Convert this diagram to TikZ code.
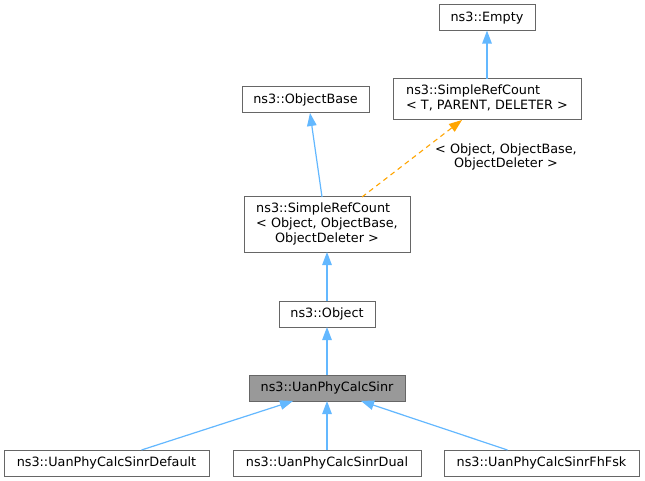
\documentclass[tikz,border=0pt]{standalone}
\usepackage{fontspec}
\setmainfont{DejaVu Sans}
\usetikzlibrary{arrows.meta}
\begin{document}
\begin{tikzpicture}[x=1pt,y=-1pt,
  box/.style={draw=black!60, line width=1pt, fill=white, inner sep=0pt, outer sep=0pt,
    font=\fontsize{12.8}{15}\selectfont, text=black},
  hl/.style={box, fill=black!40},
  edge/.style={color={rgb,255:red,99;green,184;blue,255}, line width=1.2pt,
    -{Triangle[length=13pt,width=9.5pt]}},
  tmpl/.style={color={rgb,255:red,255;green,165;blue,0}, line width=1.1pt, dash pattern=on 5pt off 4pt,
    -{Triangle[length=13pt,width=9.5pt]}},
  lbl/.style={font=\fontsize{12.8}{14}\selectfont, inner sep=0pt, text=black}]
\useasboundingbox[fill=white] (0,0) rectangle (645,481);

\node[box, minimum width=96pt, minimum height=26pt] (empty) at (487,17.6) {ns3::Empty};
\node[box, minimum width=188pt, minimum height=41pt] (srct) at (487,99.5)
  {\begin{tabular}{@{}l@{}}ns3::SimpleRefCount\\\multicolumn{1}{@{}c@{}}{< T, PARENT, DELETER >}\end{tabular}};
\node[box, minimum width=127pt, minimum height=26pt] (objbase) at (305.5,100) {ns3::ObjectBase};
\node[box, minimum width=166pt, minimum height=55pt] (srcobj) at (327,224.5)
  {\begin{tabular}{@{}l@{}}ns3::SimpleRefCount\\< Object, ObjectBase,\\\multicolumn{1}{@{}c@{}}{ObjectDeleter >}\end{tabular}};
\node[box, minimum width=96pt, minimum height=26pt] (object) at (327,314) {ns3::Object};
\node[hl, minimum width=156pt, minimum height=26pt] (upcs) at (327,388) {ns3::UanPhyCalcSinr};
\node[box, minimum width=205pt, minimum height=26pt] (def) at (106.5,463) {ns3::UanPhyCalcSinrDefault};
\node[box, minimum width=188pt, minimum height=26pt] (dual) at (327,463) {ns3::UanPhyCalcSinrDual};
\node[box, minimum width=195pt, minimum height=26pt] (fhfsk) at (541.5,463) {ns3::UanPhyCalcSinrFhFsk};
\node[lbl] (tl) at (506,157.5)
  {\begin{tabular}{@{}l@{}}< Object, ObjectBase,\\\multicolumn{1}{@{}c@{}}{ObjectDeleter >}\end{tabular}};

\draw[edge] (srct.north) -- (empty.south);
\draw[edge] ([xshift=-5pt]srcobj.north) -- ([xshift=4.5pt]objbase.south);
\draw[tmpl] ([xshift=35pt]srcobj.north) -- ([xshift=-25pt]srct.south);
\draw[edge] (object.north) -- (srcobj.south);
\draw[edge] (upcs.north) -- (object.south);
\draw[edge] ([xshift=35pt]def.north) -- ([xshift=-34pt]upcs.south);
\draw[edge] (dual.north) -- (upcs.south);
\draw[edge] ([xshift=-34pt]fhfsk.north) -- ([xshift=34pt]upcs.south);
\end{tikzpicture}
\end{document}
